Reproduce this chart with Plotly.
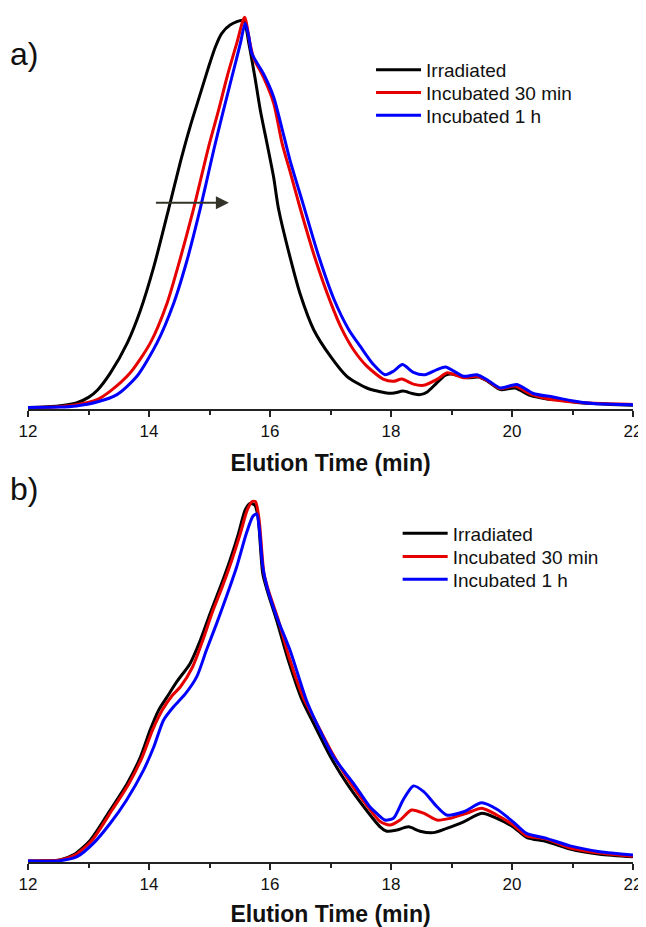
import plotly.graph_objects as go

# ---- panel a) data (elution time in min, normalised detector signal) ----
a_irr_t = [12.0, 12.5, 12.8, 13.0, 13.15, 13.36, 13.64, 13.86, 14.08, 14.32, 14.52, 14.68, 14.85, 14.99,
           15.10, 15.20, 15.34, 15.56, 15.65, 15.75, 15.84, 15.95, 16.06, 16.14, 16.34, 16.5, 16.72, 17.0,
           17.27, 17.6, 17.93, 18.05, 18.2, 18.35, 18.48, 18.6, 18.75, 18.9, 19.0, 19.26, 19.45, 19.6,
           19.81, 20.05, 20.3, 20.58, 20.8, 21.13, 21.63, 22.0]
a_irr_v = [0.0, 0.004, 0.012, 0.026, 0.045, 0.088, 0.165, 0.25, 0.361, 0.506, 0.63, 0.72, 0.805, 0.875,
           0.925, 0.958, 0.98, 0.992, 0.933, 0.847, 0.762, 0.677, 0.59, 0.51, 0.38, 0.29, 0.2, 0.131,
           0.08, 0.05, 0.037, 0.037, 0.042, 0.036, 0.033, 0.04, 0.062, 0.083, 0.086, 0.076, 0.078, 0.067,
           0.046, 0.05, 0.031, 0.022, 0.019, 0.012, 0.008, 0.006]

a_30_t = [12.0, 12.5, 12.8, 13.14, 13.36, 13.69, 14.02, 14.30, 14.51, 14.73, 14.84, 14.98, 15.15, 15.29,
          15.45, 15.58, 15.67, 15.73, 15.89, 16.06, 16.20, 16.34, 16.5, 16.75, 17.0, 17.19, 17.38, 17.6,
          17.88, 18.04, 18.18, 18.37, 18.54, 18.76, 18.93, 19.2, 19.42, 19.6, 19.81, 20.05, 20.3, 20.6,
          20.96, 21.5, 22.0]
a_30_v = [0.0, 0.002, 0.007, 0.02, 0.042, 0.089, 0.165, 0.268, 0.378, 0.505, 0.575, 0.665, 0.762, 0.847,
          0.933, 1.0, 0.933, 0.895, 0.847, 0.78, 0.677, 0.6, 0.51, 0.38, 0.27, 0.2, 0.148, 0.106,
          0.072, 0.067, 0.073, 0.06, 0.057, 0.072, 0.089, 0.076, 0.08, 0.068, 0.048, 0.055, 0.035, 0.022,
          0.015, 0.01, 0.008]

a_1h_t = [12.0, 12.5, 12.8, 13.14, 13.47, 13.8, 14.13, 14.41, 14.63, 14.84, 14.93, 15.07, 15.22, 15.37,
          15.51, 15.59, 15.65, 15.70, 15.89, 16.06, 16.19, 16.33, 16.55, 16.8, 17.05, 17.3, 17.49, 17.71,
          17.9, 18.04, 18.19, 18.37, 18.56, 18.76, 18.9, 19.2, 19.42, 19.6, 19.81, 20.08, 20.35, 20.68,
          20.96, 21.35, 22.0]
a_1h_v = [0.0, 0.001, 0.004, 0.014, 0.033, 0.08, 0.165, 0.268, 0.378, 0.505, 0.565, 0.66, 0.755, 0.847,
          0.933, 0.985, 0.95, 0.907, 0.856, 0.796, 0.72, 0.634, 0.52, 0.39, 0.28, 0.2, 0.157, 0.11,
          0.084, 0.093, 0.11, 0.09, 0.084, 0.097, 0.104, 0.08, 0.084, 0.07, 0.05, 0.059, 0.036, 0.027,
          0.018, 0.01, 0.007]

# ---- panel b) data ----
b_irr_t = [12.0, 12.3, 12.53, 12.75, 13.03, 13.36, 13.64, 13.86, 14.02, 14.16, 14.3, 14.46, 14.68, 14.85,
           15.01, 15.18, 15.34, 15.48, 15.59, 15.67, 15.75, 15.80, 15.88, 15.95, 16.11, 16.3, 16.53, 16.72,
           17.0, 17.27, 17.55, 17.82, 17.93, 18.09, 18.29, 18.48, 18.7, 18.92, 19.2, 19.5, 19.75, 20.02,
           20.24, 20.57, 20.96, 21.45, 22.0]
b_irr_v = [0.0, 0.0005, 0.003, 0.017, 0.058, 0.142, 0.216, 0.29, 0.365, 0.42, 0.457, 0.499, 0.55, 0.615,
           0.689, 0.763, 0.838, 0.912, 0.977, 0.995, 0.99, 0.96, 0.80, 0.755, 0.67, 0.56, 0.448, 0.383,
           0.29, 0.216, 0.151, 0.095, 0.083, 0.086, 0.095, 0.083, 0.079, 0.091, 0.109, 0.133, 0.119, 0.095,
           0.066, 0.054, 0.033, 0.019, 0.012]

b_30_t = [12.0, 12.3, 12.53, 12.78, 13.06, 13.39, 13.67, 13.89, 14.06, 14.22, 14.38, 14.52, 14.72, 14.88,
          15.04, 15.21, 15.37, 15.51, 15.62, 15.7, 15.76, 15.82, 15.9, 15.97, 16.13, 16.32, 16.55, 16.75,
          17.03, 17.3, 17.6, 17.82, 17.98, 18.15, 18.34, 18.54, 18.76, 18.98, 19.25, 19.5, 19.75, 20.02,
          20.24, 20.57, 20.96, 21.45, 22.0]
b_30_v = [0.0, 0.0005, 0.003, 0.017, 0.058, 0.142, 0.216, 0.29, 0.365, 0.42, 0.46, 0.485, 0.54, 0.61,
          0.689, 0.763, 0.838, 0.912, 0.975, 1.0, 1.0, 0.95, 0.80, 0.755, 0.675, 0.565, 0.455, 0.39,
          0.3, 0.225, 0.155, 0.11, 0.1, 0.114, 0.142, 0.133, 0.114, 0.119, 0.133, 0.147, 0.128, 0.1,
          0.07, 0.061, 0.036, 0.022, 0.013]

b_1h_t = [12.0, 12.53, 12.81, 13.08, 13.36, 13.63, 13.91, 14.08, 14.24, 14.41, 14.6, 14.79, 14.95, 15.12,
          15.28, 15.45, 15.61, 15.72, 15.78, 15.82, 15.88, 15.95, 16.11, 16.33, 16.6, 16.77, 17.05, 17.38,
          17.65, 17.76, 17.9, 18.04, 18.2, 18.37, 18.54, 18.76, 18.92, 19.2, 19.5, 19.75, 20.02, 20.24,
          20.57, 20.96, 21.45, 22.0]
b_1h_v = [0.0, 0.001, 0.012, 0.049, 0.105, 0.17, 0.253, 0.318, 0.392, 0.43, 0.465, 0.513, 0.587, 0.662,
          0.736, 0.819, 0.912, 0.96, 0.966, 0.93, 0.82, 0.763, 0.68, 0.587, 0.448, 0.383, 0.29, 0.216,
          0.151, 0.133, 0.114, 0.119, 0.17, 0.209, 0.193, 0.151, 0.128, 0.137, 0.162, 0.144, 0.109, 0.077,
          0.063, 0.042, 0.026, 0.017]

names = ['Irradiated', 'Incubated 30 min', 'Incubated 1 h']
colors = ['#000000', '#e60000', '#0000ff']
font = 'Arial, Liberation Sans, sans-serif'

# page body has an 8px margin, so the figure is a bit smaller than the window
W, H = 638, 919

fig = go.Figure()

panel_a = [(a_irr_t, a_irr_v), (a_30_t, a_30_v), (a_1h_t, a_1h_v)]
panel_b = [(b_irr_t, b_irr_v), (b_30_t, b_30_v), (b_1h_t, b_1h_v)]

# one legend per entry so the row spacing can match the original
leg_a_rows = [62, 84.7, 107.3]
leg_b_rows = [525.3, 548.7, 571.3]

for i, ((t, v), name, c) in enumerate(zip(panel_a, names, colors)):
    fig.add_trace(go.Scatter(x=t, y=v, name=name, mode='lines',
                             line=dict(color=c, width=3, shape='spline', smoothing=0.7),
                             xaxis='x', yaxis='y', legend='legend' if i == 0 else f'legend{i + 1}'))

for i, ((t, v), name, c) in enumerate(zip(panel_b, names, colors)):
    fig.add_trace(go.Scatter(x=t, y=v, name=name, mode='lines',
                             line=dict(color=c, width=3, shape='spline', smoothing=0.7),
                             xaxis='x2', yaxis='y2', legend=f'legend{i + 4}'))

xax = dict(range=[12, 22], showline=True, linecolor='#222', linewidth=1.5,
           ticks='outside', ticklen=6, tickwidth=1.5, tickcolor='#222',
           tickvals=[12, 14, 16, 18, 20, 22], showgrid=False, zeroline=False, automargin=False,
           minor=dict(tickvals=[13, 15, 17, 19, 21], ticklen=4, tickwidth=1.5, tickcolor='#222', ticks='outside'),
           tickfont=dict(family=font, size=17, color='#111'),
           title=dict(text='<b>Elution Time (min)</b>', font=dict(family=font, size=23, color='#111'),
                      standoff=14))

legends = {}
for i, row in enumerate(leg_a_rows + leg_b_rows):
    key = 'legend' if i == 0 else f'legend{i + 1}'
    legends[key] = dict(x=0.567 if i < 3 else 0.611, y=1 - row / H, xanchor='left', yanchor='middle',
                        itemwidth=45, font=dict(family=font, size=19, color='#111'),
                        bgcolor='rgba(0,0,0,0)')

fig.update_layout(
    width=W, height=H,
    margin=dict(l=20, r=13, t=0, b=0),
    plot_bgcolor='white', paper_bgcolor='white',
    xaxis=dict(xax, anchor='y'),
    xaxis2=dict(xax, anchor='y2'),
    yaxis=dict(domain=[1 - 401.3 / H, 1 - 2 / H], range=[-0.0046, 1.0187], visible=False),
    yaxis2=dict(domain=[1 - 854.3 / H, 1 - 482 / H], range=[-0.0036, 1.0326], visible=False),
    showlegend=True,
    **legends,
)

# panel labels
fig.add_annotation(text='a)', x=-0.033, y=1 - 46 / H, xref='paper', yref='paper',
                   xanchor='left', yanchor='middle', showarrow=False,
                   font=dict(family=font, size=32, color='#111'))
fig.add_annotation(text='b)', x=-0.033, y=1 - 481 / H, xref='paper', yref='paper',
                   xanchor='left', yanchor='middle', showarrow=False,
                   font=dict(family=font, size=32, color='#111'))

# shift arrow in panel a
fig.add_annotation(x=15.32, y=0.525, ax=14.09, ay=0.525, xref='x', yref='y', axref='x', ayref='y',
                   text='', showarrow=True, arrowhead=2, arrowsize=1.3, arrowwidth=2, arrowcolor='#33332a')

fig.write_html("out.html")
